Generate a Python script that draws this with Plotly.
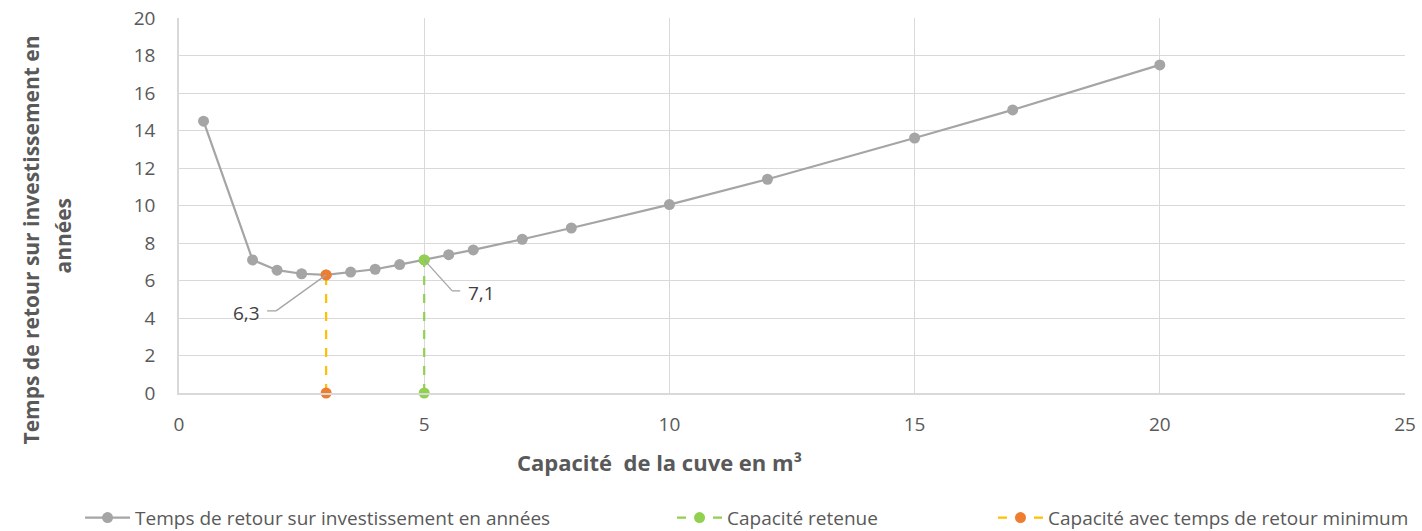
import plotly.graph_objects as go

# Capacité de la cuve (m³) et temps de retour sur investissement (années)
capacite = [0.5, 1.5, 2, 2.5, 3, 3.5, 4, 4.5, 5, 5.5, 6, 7, 8, 10, 12, 15, 17, 20]
temps_retour = [14.5, 7.1, 6.55, 6.36, 6.3, 6.45, 6.6, 6.85, 7.1, 7.38, 7.63, 8.2, 8.8, 10.05, 11.4, 13.6, 15.1, 17.5]

# Capacité retenue et capacité au temps de retour minimum
cap_retenue = 5
temps_retenue = 7.1
cap_min = 3
temps_min = 6.3

x_ticks = [0, 5, 10, 15, 20, 25]
y_ticks = [0, 2, 4, 6, 8, 10, 12, 14, 16, 18, 20]

FONT = "Open Sans"
GRID = "#D9D9D9"
TXT = "#595959"

fig = go.Figure()

fig.add_trace(go.Scatter(
    x=capacite, y=temps_retour, mode="lines+markers",
    name="Temps de retour sur investissement en années",
    line=dict(color="#A5A5A5", width=2.2),
    marker=dict(color="#A5A5A5", size=11),
    legend="legend", showlegend=True, cliponaxis=False,
))

fig.add_trace(go.Scatter(
    x=[cap_retenue, cap_retenue], y=[0, temps_retenue], mode="lines+markers",
    name="Capacité retenue",
    line=dict(color="#92D050", width=2.2, dash="dash"),
    marker=dict(color="#92D050", size=11),
    legend="legend2", showlegend=True, cliponaxis=False,
))

fig.add_trace(go.Scatter(
    x=[cap_min, cap_min], y=[0, temps_min], mode="lines+markers",
    name="Capacité avec temps de retour minimum",
    line=dict(color="#FFC000", width=2.2, dash="dash"),
    marker=dict(color="#ED7D31", size=11),
    legend="legend3", showlegend=True, cliponaxis=False,
))

# Étiquettes de valeur avec traits de rappel
labels = [
    # (x, y, coude dx, coude dy, fin dx, décalage texte x, décalage texte y)
    (cap_min, temps_min, -50, -36, -59, -80, -38),
    (cap_retenue, temps_retenue, 28, -31, 36, 57, -33),
]
for x, y, bx, by, ex, tx, ty in labels:
    fig.add_shape(type="line", xref="x", yref="y",
                  xsizemode="pixel", ysizemode="pixel", xanchor=x, yanchor=y,
                  x0=0, y0=0, x1=bx, y1=by,
                  line=dict(color="#A5A5A5", width=1.3))
    fig.add_shape(type="line", xref="x", yref="y",
                  xsizemode="pixel", ysizemode="pixel", xanchor=x, yanchor=y,
                  x0=bx, y0=by, x1=ex, y1=by,
                  line=dict(color="#A5A5A5", width=1.3))
    fig.add_annotation(x=x, y=y, xref="x", yref="y",
                       text=f"{y:.1f}".replace(".", ","), showarrow=False,
                       xshift=tx, yshift=ty,
                       font=dict(family=FONT, size=19, color="#404040"))

# Titres des axes
title_font = dict(family=FONT, size=21, color=TXT)
fig.add_annotation(xref="paper", yref="paper", x=0, y=0.5, xshift=-149, yshift=-35,
                   xanchor="center", yanchor="middle",
                   text="<b>Temps de retour sur investissement en</b>", textangle=-90,
                   showarrow=False, font=title_font)
fig.add_annotation(xref="paper", yref="paper", x=0, y=0.5, xshift=-117, yshift=-30,
                   xanchor="center", yanchor="middle",
                   text="<b>années</b>", textangle=-90,
                   showarrow=False, font=title_font)
fig.add_annotation(xref="paper", yref="paper", x=0.392, y=0, yshift=-69,
                   xanchor="center", yanchor="middle",
                   text="<b>Capacité  de la cuve en m³</b>",
                   showarrow=False, font=dict(family=FONT, size=22, color=TXT))

legend_style = dict(orientation="h", xref="container", yref="container",
                    yanchor="middle", y=0.025, xanchor="left",
                    font=dict(family=FONT, size=19, color=TXT),
                    bgcolor="rgba(0,0,0,0)", itemwidth=45)

fig.update_layout(
    width=1422, height=531,
    margin=dict(l=179, r=17, t=18, b=138, autoexpand=False),
    paper_bgcolor="white", plot_bgcolor="white",
    font=dict(family=FONT, color=TXT),
    showlegend=True,
    legend=dict(x=0.0563, **legend_style),
    legend2=dict(x=0.4726, **legend_style),
    legend3=dict(x=0.6983, **legend_style),
    xaxis=dict(
        range=[0, 25], tickvals=x_ticks, showgrid=True, gridcolor=GRID, gridwidth=1.3,
        showline=True, linecolor=GRID, linewidth=1.5, zeroline=False,
        ticks="", ticklabelstandoff=13, automargin=False,
        tickfont=dict(family=FONT, size=19, color=TXT),
    ),
    yaxis=dict(
        range=[0, 20], tickvals=y_ticks, showgrid=True, gridcolor=GRID, gridwidth=1.3,
        showline=True, linecolor=GRID, linewidth=1.5, zeroline=False,
        ticks="", ticklabelstandoff=18, automargin=False,
        tickfont=dict(family=FONT, size=19, color=TXT),
    ),
)

fig.write_html("out.html")
